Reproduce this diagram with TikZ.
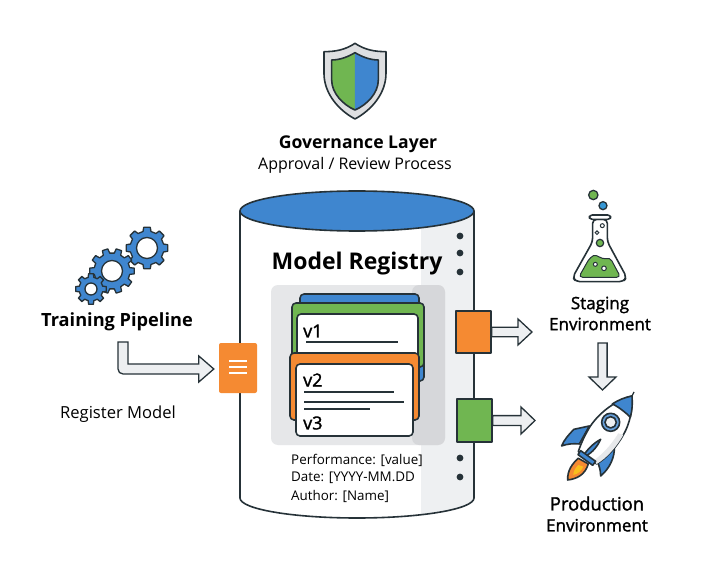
\documentclass[tikz,border=0pt]{standalone}
\usepackage{fontspec}
\setmainfont{Open Sans}
\newfontfamily\medfont[FakeBold=1.6]{Open Sans}
\usetikzlibrary{calc}
\definecolor{ink}{HTML}{263238}
\definecolor{mblue}{HTML}{3F86CF}
\definecolor{mgreen}{HTML}{70B651}
\definecolor{morange}{HTML}{F58A32}
\definecolor{strip}{HTML}{EEF0F2}
\definecolor{panel}{HTML}{E6E7E9}
\definecolor{panelb}{HTML}{D6D7DA}
\definecolor{arrowfill}{HTML}{EDEFF1}
\tikzset{
  outline/.style={draw=ink,line width=1.6pt,line join=round},
  card/.style={outline,rounded corners=4pt},
  blockarrow/.style={draw=ink,line width=1.3pt,fill=arrowfill,line join=miter},
  rule/.style={draw=ink,line width=1.4pt},
  dotmark/.style={fill=ink,draw=none},
  label/.style={inner sep=0pt,text=black},
  titlebig/.style={label,font=\fontsize{23}{26}\selectfont\bfseries},
  titlemid/.style={label,font=\fontsize{17.6}{20}\selectfont\bfseries},
  trainlabel/.style={label,font=\fontsize{18.2}{20}\selectfont\bfseries},
  plainmid/.style={label,font=\fontsize{16}{18}\selectfont},
  reglabel/.style={label,font=\fontsize{16.6}{18}\selectfont},
  envlabel/.style={label,font=\fontsize{17}{21}\selectfont\medfont,align=center},
  meta/.style={label,anchor=west,font=\fontsize{13.4}{15}\selectfont},
  vlabel/.style={label,anchor=west,font=\fontsize{18}{20}\selectfont\medfont},
  gearbody/.style={draw=ink,line width=1.3pt,fill=mblue,line join=round},
  zoomthree/.style={x=0.3333pt,y=-0.3333pt},
}
\newcommand\geartooth[6]{% cx cy R rin hole teeth
  \begin{scope}[shift={(#1,#2)}]
    \pgfmathsetmacro\gs{360/#6}
    \pgfmathsetmacro\gl{\gs*(#6-1)}
    \draw[gearbody] ({-0.3*\gs}:#4)
      \foreach \a in {0,\gs,...,\gl} {
        -- ({\a-0.3*\gs}:#4) -- ({\a-0.2*\gs}:#3) -- ({\a+0.2*\gs}:#3) -- ({\a+0.3*\gs}:#4)
      } -- cycle;
    \draw[draw=ink,line width=1.3pt,fill=white] (0,0) circle[radius=#5];
  \end{scope}}
\newcommand\rightblock[4]{% from to half-stem half-head
  \draw[blockarrow] let \p1=(#1.east), \p2=(#2) in
    (\x1,\y1+#3pt) -- (\x2-14pt,\y1+#3pt) -- (\x2-14pt,\y1+#4pt) -- (\x2,\y1)
    -- (\x2-14pt,\y1-#4pt) -- (\x2-14pt,\y1-#3pt) -- (\x1,\y1-#3pt) -- cycle;}
\begin{document}
\begin{tikzpicture}[x=1pt,y=-1pt]
\useasboundingbox (0,0) rectangle (713,575);
\fill[white] (0,0) rectangle (713,575);

% cylinder
\path[fill=white] (240,211) -- (240,498) .. controls (240,509) and (292,518) .. (357,518)
  .. controls (422,518) and (474,509) .. (474,498) -- (474,211) -- cycle;
\begin{scope}
  \clip (240,211) -- (240,498) .. controls (240,509) and (292,518) .. (357,518)
  .. controls (422,518) and (474,509) .. (474,498) -- (474,211) -- cycle;
  \fill[strip] (421,200) rectangle (474,525);
\end{scope}
\draw[outline] (240,211) -- (240,498) .. controls (240,509) and (292,518) .. (357,518)
  .. controls (422,518) and (474,509) .. (474,498) -- (474,211);
\draw[outline,fill=mblue] (357,211) ellipse [x radius=117,y radius=20];
\foreach \yy in {236,253,272,458,477} \fill[dotmark] (460,\yy) circle[radius=3.4];

\node[titlebig] (registry) at (357,263.5) {Model Registry};

% panel
\fill[panel,rounded corners=7pt] (271,285) rectangle (445,445);
\fill[panelb,rounded corners=7pt] (412,285) rectangle (445,445);

% version cards
\draw[card,fill=mblue] (400,345) rectangle (424,381);
\draw[card,fill=mblue] (300,294) rectangle (419,340);
\draw[card,fill=mgreen] (292,303) rectangle (424,367);
\draw[card,fill=white] (297,314) rectangle (418,360);
\node[vlabel] (v1) at (303,331) {v1};
\draw[rule] (306,342) -- (398,342);
\draw[card,fill=morange] (290,353) rectangle (419,420);
\draw[card,fill=white] (296,364) rectangle (413,436);
\node[vlabel] (v2) at (303,380) {v2};
\draw[rule] (304,392) -- (394,392);
\draw[rule] (304,402) -- (404,402);
\draw[rule] (304,409) -- (370,409);
\node[vlabel] (v3) at (303,423) {v3};

\node[meta] (perf) at (291,460) {Performance: [value]};
\node[meta] (date) at (291,478) {Date: [YYYY-MM.DD};
\node[meta] (auth) at (291,496.5) {Author: [Name]};

% governance
\begin{scope}[shift={(250,30)},zoomthree]
  \draw[outline,fill=panelb!80!white] (315,40) .. controls (285,60) and (255,65) .. (222,65)
    -- (222,130) .. controls (222,190) and (265,240) .. (315,267)
    .. controls (365,240) and (408,190) .. (408,130) -- (408,65)
    .. controls (375,65) and (345,60) .. (315,40) -- cycle;
  \fill[mgreen] (315,68) .. controls (295,80) and (270,90) .. (245,90) -- (245,150)
    .. controls (245,190) and (280,225) .. (315,240) -- cycle;
  \fill[mblue] (315,68) .. controls (335,80) and (360,90) .. (385,90) -- (385,150)
    .. controls (385,190) and (350,225) .. (315,240) -- cycle;
  \draw[outline] (315,68) .. controls (295,80) and (270,90) .. (245,90) -- (245,150)
    .. controls (245,190) and (280,225) .. (315,240)
    .. controls (350,225) and (385,190) .. (385,150) -- (385,90)
    .. controls (360,90) and (335,80) .. (315,68) -- cycle;
\end{scope}
\node[titlemid] (gov) at (358,144.5) {Governance Layer};
\node[plainmid] (approval) at (355,165.5) {Approval / Review Process};

% training pipeline
\geartooth{147}{248}{21}{17}{10.5}{8}
\geartooth{112}{271}{22.5}{18}{10.5}{10}
\geartooth{91}{289}{15.5}{12}{6}{8}
\node[trainlabel] (train) at (117,322) {Training Pipeline};
\node[reglabel] (register) at (118,414) {Register Model};

% register icon
\node[fill=morange,rounded corners=2pt,minimum width=38pt,minimum height=50pt,inner sep=0pt] (doc) at (238,368) {};
\foreach \yy in {361,367,373} \draw[white,line width=1.5pt] (229,\yy) -- (247,\yy);

\coordinate (pipeout) at (123,342);
\coordinate (pipein) at ($(doc.west)+(-5,1)$);
\draw[blockarrow,rounded corners=0pt] let \p1=(pipeout), \p2=(pipein) in
  (\x1-5pt,\y1) -- (\x1+5pt,\y1) -- (\x1+5pt,\y2+5pt)
  -- (\x2-15pt,\y2+5pt) -- (\x2-15pt,\y2+13pt) -- (\x2,\y2) -- (\x2-15pt,\y2-13pt)
  -- (\x2-15pt,\y2-5pt) -- (\x1+3pt,\y2-5pt) [rounded corners=5pt] -- (\x1-5pt,\y2-5pt) [rounded corners=0pt] -- cycle;

% deploy ports
\node[outline,fill=morange,minimum width=35pt,minimum height=42pt,inner sep=0pt] (portstaging) at (473.5,332) {};
\node[outline,fill=mgreen,minimum width=35pt,minimum height=43pt,inner sep=0pt] (portprod) at (474.5,420.5) {};
\coordinate (stagingin) at (532,332);
\coordinate (prodin) at (535,420.5);
\rightblock{portstaging}{stagingin}{4.7}{13}
\rightblock{portprod}{prodin}{4.9}{13.5}

% flask
\begin{scope}[shift={(450,180)},zoomthree]
  \draw[draw=ink,line width=1.3pt,fill=mgreen] (430,45) circle[radius=14];
  \draw[draw=ink,line width=1.3pt,fill=mblue!85!cyan] (459,77) circle[radius=12];
  \draw[outline,fill=white,rounded corners=4pt] (428,118) -- (428,185) -- (368,292) -- (378,305)
    -- (520,305) -- (530,292) -- (472,185) -- (472,118) -- cycle;
  \draw[outline,fill=white,rounded corners=3pt] (418,105) rectangle (482,118);
  \fill[mgreen,draw=ink,line width=1pt,rounded corners=4pt] (386,292) -- (420,232)
    .. controls (440,222) and (455,240) .. (480,232) -- (512,292) -- cycle;
  \draw[draw=ink,line width=1pt] (457,137) circle[radius=6];
  \draw[draw=ink,line width=1pt] (441,158) circle[radius=5.5];
  \draw[draw=ink,line width=1.2pt,fill=mgreen] (450,189) circle[radius=11];
  \draw[draw=ink,line width=1pt,fill=white] (436,253) circle[radius=6];
  \draw[draw=ink,line width=1pt,fill=white] (462,265) circle[radius=7];
\end{scope}
\node[envlabel] (staging) at (600,313.5) {Staging\\Environment};

\node[inner sep=0pt,minimum size=0pt] (stagingbottom) at (602.5,343) {};
\node[inner sep=0pt,minimum size=0pt] (prodtop) at (602.5,390) {};
\draw[blockarrow] let \p1=(stagingbottom), \p2=(prodtop) in
  (\x1-4.6pt,\y1) -- (\x1+4.6pt,\y1) -- (\x1+4.6pt,\y2+13pt) -- (\x1+13.5pt,\y2+13pt) -- (\x2,\y2)
  -- (\x1-13.5pt,\y2+13pt) -- (\x1-4.6pt,\y2+13pt) -- cycle;

% rocket
\begin{scope}[shift={(450,180)},zoomthree]
  \draw[draw=ink,line width=1.2pt] (545,650) -- (552,636);
  % fins
  \draw[outline,fill=mblue] (418,738) -- (372,748) .. controls (355,765) and (342,780) .. (335,798)
    .. controls (350,792) and (370,790) .. (388,792) -- cycle;
  \draw[outline,fill=mblue] (493,800) .. controls (495,830) and (480,865) .. (452,888) .. controls (452,870) and (447,855) .. (440,840) -- cycle;
  % flame
  \draw[outline,fill=morange] (385,835) .. controls (368,850) and (352,870) .. (353,900)
    .. controls (380,897) and (405,885) .. (415,852) -- cycle;
  \fill[morange!55!yellow] (385,855) .. controls (375,865) and (370,875) .. (370,885)
    .. controls (385,882) and (395,872) .. (400,860) -- cycle;
  % body
  \draw[outline,fill=white] (546,648) .. controls (500,660) and (450,695) .. (420,740)
    .. controls (405,765) and (393,790) .. (385,815) -- (440,852)
    .. controls (470,835) and (500,800) .. (520,765) .. controls (540,730) and (548,690) .. (546,648) -- cycle;
  \fill[strip!70!panelb] (505,760) .. controls (480,800) and (455,825) .. (430,842) -- (440,852)
    .. controls (470,835) and (500,800) .. (520,765) -- cycle;
  \draw[outline,fill=mblue] (546,648) .. controls (525,652) and (505,660) .. (487,672)
    .. controls (505,680) and (530,700) .. (541,712) .. controls (547,690) and (548,670) .. (546,648) -- cycle;
  \draw[outline,fill=mblue!80!white] (482,727) circle[radius=27];
  \draw[outline,fill=strip] (482,727) circle[radius=17];
  % centre fin and nozzle
  \draw[outline,fill=mblue] (452,778) .. controls (430,790) and (410,810) .. (397,832) .. controls (420,825) and (440,805) .. (452,778) -- cycle;
  \draw[outline,fill=mblue] (392,812) -- (384,824) -- (428,856) -- (437,844) -- cycle;
\end{scope}
\node[envlabel] (production) at (597,514) {{\fontsize{18.4}{21}\selectfont\medfont Production}\\Environment};
\end{tikzpicture}
\end{document}
